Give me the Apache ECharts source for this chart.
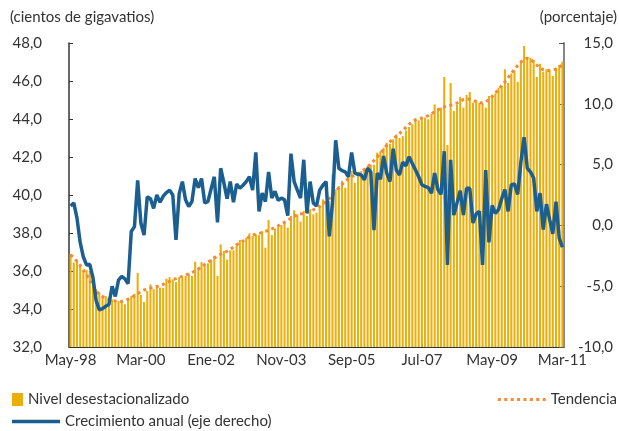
<!DOCTYPE html>
<html>
<head>
<meta charset="utf-8">
<script src="https://cdn.jsdelivr.net/npm/echarts@6/dist/echarts.min.js"></script>
<style>
html,body{margin:0;padding:0;background:#fff;}
#chart{width:619px;height:431px;}
</style>
</head>
<body>
<div id="chart"></div>
<script>
// Month names (Spanish) used to build the monthly categories May-98 .. Mar-11
var monthNames = ['Ene','Feb','Mar','Abr','May','Jun','Jul','Ago','Sep','Oct','Nov','Dic'];
var categories = [];
(function(){
  var m = 4, y = 1998;
  while (!(y === 2011 && m === 3)) {
    categories.push(monthNames[m] + '-' + String(y).slice(2));
    m++; if (m === 12) { m = 0; y++; }
  }
})();

// Nivel desestacionalizado (cientos de gigavatios)
var nivel = [
36.9,36.44,36.6,36.3,36.0,36.05,36.0,35.47,35.05,34.86,
34.6,34.68,34.6,34.5,34.42,34.42,34.42,34.25,34.5,34.68,
34.8,35.9,34.74,34.37,34.95,35.3,35.04,35.2,35.12,35.12,
35.6,35.68,35.56,35.42,35.68,35.65,35.74,35.86,35.74,36.49,
36.17,36.47,36.26,36.4,36.6,36.8,35.74,37.4,37.05,36.6,
37.09,37.09,37.4,37.63,37.58,37.75,37.98,37.84,37.93,37.89,
38.1,37.23,38.68,37.89,38.23,38.32,38.42,38.54,38.28,38.9,
39.2,38.98,38.6,39.16,38.9,39.25,38.98,39.07,39.37,39.77,
39.6,39.68,41.09,40.3,40.47,40.74,40.38,41.0,41.26,40.65,
41.17,41.26,41.35,41.53,41.6,41.6,42.23,42.3,42.49,42.75,
42.7,42.93,43.19,43.0,43.1,43.4,43.58,43.72,43.98,43.93,
44.04,44.07,43.98,44.28,44.77,44.51,44.6,46.21,42.63,45.9,
44.42,44.74,45.16,44.6,45.26,45.42,44.86,44.98,44.86,44.81,
44.6,45.21,45.26,45.35,45.65,45.74,46.62,45.91,46.4,46.56,
45.96,47.05,47.84,47.26,47.23,47.09,46.21,46.91,46.49,46.62,
46.53,46.26,46.7,46.84,47.02
];

// Tendencia (cientos de gigavatios)
var tendencia = [
36.85,36.7,36.5,36.3,36.05,35.8,35.5,35.2,34.95,34.78,
34.65,34.55,34.5,34.45,34.42,34.4,34.4,34.45,34.52,34.6,
34.7,34.8,34.92,35.0,35.05,35.1,35.14,35.18,35.24,35.3,
35.38,35.46,35.55,35.6,35.66,35.72,35.78,35.85,35.92,36.0,
36.1,36.22,36.34,36.46,36.58,36.68,36.78,36.88,36.96,37.04,
37.14,37.26,37.38,37.48,37.58,37.7,37.8,37.88,37.94,37.98,
38.02,38.08,38.15,38.22,38.3,38.38,38.47,38.57,38.67,38.77,
38.88,38.96,39.0,39.04,39.08,39.14,39.22,39.3,39.4,39.52,
39.65,39.8,39.98,40.18,40.38,40.56,40.72,40.86,40.96,41.04,
41.12,41.22,41.34,41.48,41.64,41.82,42.0,42.2,42.4,42.62,
42.8,42.96,43.1,43.24,43.4,43.56,43.72,43.86,43.96,44.02,
44.06,44.1,44.18,44.28,44.38,44.48,44.58,44.64,44.68,44.72,
44.76,44.84,44.94,45.02,45.06,45.04,44.98,44.92,44.86,44.84,
44.9,45.02,45.18,45.36,45.56,45.76,45.96,46.18,46.4,46.62,
46.82,47.0,47.14,47.2,47.15,47.0,46.84,46.7,46.6,46.56,
46.55,46.57,46.62,46.72,46.85
];

// Crecimiento anual (porcentaje, eje derecho)
var crecimiento = [
1.6,1.85,0.6,-1.4,-2.6,-3.25,-3.2,-4.3,-6.2,-6.95,
-6.85,-6.65,-6.5,-5.0,-5.85,-4.5,-4.2,-4.4,-4.8,-0.5,
-0.1,3.7,0.2,-0.8,2.35,2.2,1.4,2.5,1.9,2.4,
2.7,2.9,2.5,-1.2,2.6,3.6,2.1,1.55,1.96,3.85,
3.1,3.85,1.85,1.95,3.0,4.0,0.25,4.7,3.5,2.2,
3.6,1.9,3.4,3.05,3.3,3.6,4.0,2.9,6.0,1.15,
2.65,1.95,4.4,2.25,2.8,2.05,2.25,2.1,0.8,5.9,
3.6,2.9,2.25,5.4,1.0,3.6,1.85,1.6,2.9,3.3,
3.6,-0.9,1.85,7.0,4.7,4.5,4.4,4.0,6.0,4.3,
4.2,4.15,3.75,4.7,4.4,-0.4,4.3,3.8,5.7,4.3,
3.6,6.3,4.55,4.15,5.2,4.9,5.65,5.1,4.55,4.0,
3.35,3.2,3.1,2.65,4.3,2.95,2.55,6.1,-3.25,5.4,
0.85,1.85,2.85,0.85,3.05,3.05,0.2,0.95,1.15,-3.25,
4.55,-1.4,1.65,1.0,1.3,2.2,2.95,1.15,3.35,3.4,
2.55,5.2,7.25,4.7,4.4,3.9,1.15,2.65,-0.35,1.75,
0.5,-0.7,1.95,-1.05,-1.8
];

var leftTitle = '(cientos de gigavatios)';
var rightTitle = '(porcentaje)';
var seriesNames = ['Nivel desestacionalizado', 'Tendencia', 'Crecimiento anual (eje derecho)'];

var FONT = 'Lato';
var FS = 15;
var TXT = '#333333';
function fmt(v){ return v.toFixed(1).replace('.', ','); }

var dotIcon = 'path://M0,0h3v3h-3z M6.4,0h3v3h-3z M12.8,0h3v3h-3z M19.2,0h3v3h-3z M25.6,0h3v3h-3z M32,0h3v3h-3z M38.4,0h3v3h-3z M44.8,0h3v3h-3z';
var lineIcon = 'path://M0,0h48v3.5h-48z';

var chart = echarts.init(document.getElementById('chart'), null, {renderer:'canvas'});
chart.setOption({
  animation: false,
  backgroundColor: '#ffffff',
  textStyle: {fontFamily: FONT, color: TXT},
  grid: {left: 69, right: 55, top: 43, bottom: 84, containLabel: false},
  graphic: [
    {type:'text', left: 10, top: 10, style:{text: leftTitle, font: FS + 'px ' + FONT, fill: TXT}},
    {type:'text', right: 2, top: 10, style:{text: rightTitle, font: FS + 'px ' + FONT, fill: TXT}}
  ],
  legend: [
    {data:[{name: seriesNames[0], icon: 'rect'}], left: 12, top: 392, padding: 0, itemWidth: 11, itemHeight: 13, itemGap: 8,
     textStyle:{fontFamily: FONT, fontSize: FS, color: TXT}},
    {data:[{name: seriesNames[1], icon: dotIcon}], right: 2, top: 392, padding: 0, itemWidth: 48, itemHeight: 3,
     textStyle:{fontFamily: FONT, fontSize: FS, color: TXT}},
    {data:[{name: seriesNames[2], icon: lineIcon}], left: 12, top: 414, padding: 0, itemWidth: 48, itemHeight: 3.5,
     textStyle:{fontFamily: FONT, fontSize: FS, color: TXT}}
  ],
  xAxis: {
    type: 'category',
    data: categories,
    boundaryGap: true,
    axisLine: {show: true, onZero: false, lineStyle: {color: '#333', width: 1}},
    axisTick: {show: true, inside: true, length: 4, interval: 21, alignWithLabel: true, lineStyle:{color:'#333'}},
    axisLabel: {interval: 21, margin: 6, fontFamily: FONT, fontSize: FS, color: TXT, hideOverlap: false},
    splitLine: {show: false}
  },
  yAxis: [
    {
      type: 'value', min: 32, max: 48, interval: 2, position: 'left',
      axisLine: {show: true, onZero: false, lineStyle: {color: '#333', width: 1.5}},
      axisTick: {show: true, inside: true, length: 4, lineStyle:{color:'#333'}},
      axisLabel: {formatter: fmt, margin: 27, fontFamily: FONT, fontSize: FS, color: TXT},
      splitLine: {show: false}
    },
    {
      type: 'value', min: -10, max: 15, interval: 5, position: 'right',
      axisLine: {show: true, onZero: false, lineStyle: {color: '#888', width: 2}},
      axisTick: {show: true, inside: true, length: 5, lineStyle:{color:'#555'}},
      axisLabel: {formatter: fmt, margin: 49, align: 'right', fontFamily: FONT, fontSize: FS, color: TXT},
      splitLine: {show: false}
    }
  ],
  series: [
    {
      name: seriesNames[0], type: 'bar', yAxisIndex: 0, data: nivel,
      barCategoryGap: '35%', itemStyle: {color: '#EBAF0C'}, z: 1
    },
    {
      name: seriesNames[1], type: 'line', yAxisIndex: 0, data: tendencia,
      symbol: 'none', smooth: false,
      lineStyle: {color: '#F08A3C', width: 3, type: [3, 3.5]},
      itemStyle: {color: '#F08A3C'}, z: 3
    },
    {
      name: seriesNames[2], type: 'line', yAxisIndex: 1, data: crecimiento,
      symbol: 'none', smooth: false,
      lineStyle: {color: '#1A5F8F', width: 3.5}, itemStyle: {color: '#1A5F8F'}, z: 4
    }
  ]
});
</script>
</body>
</html>
